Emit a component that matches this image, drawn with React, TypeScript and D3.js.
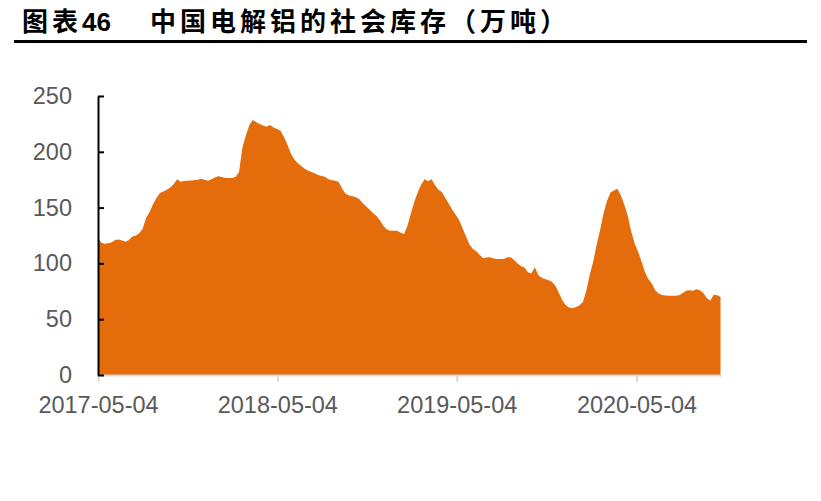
import React, { useRef, useEffect } from "react";
import * as d3 from "d3";

// weekly readings (Thursdays) starting 2017-05-04, unit: 万吨
const startDate = "2017-05-04";
const stock = [
  123, 118.5, 117.5, 118, 119, 121, 121.5, 120.5, 119.5, 121,
  124, 125, 127, 131, 141, 146, 153, 158.5, 163, 164.5,
  166, 168, 171, 175.5, 173.2, 173.8, 174, 174.2, 174.5, 175,
  175.9, 175, 174, 175.5, 177, 178, 177.5, 176.5, 176.5, 176.5,
  177.5, 182, 204, 214.5, 224, 228.5, 226.5, 225, 223.5, 222.5,
  224, 222, 220.5, 219, 213.6, 207, 199, 193.5, 190, 187.5,
  185, 183.2, 181.8, 180.8, 179.2, 178.3, 177.7, 175.5, 174.5, 174,
  173, 167, 162.5, 160.8, 160.2, 159.3, 157.5, 154, 151, 148,
  145, 142.5, 138.5, 133.5, 130.3, 129.3, 129.3, 129.3, 127.5, 126.3,
  134, 145, 155.5, 164, 171, 175.4, 173.5, 175.4, 170, 166,
  164, 158.5, 153.5, 148, 143.5, 139, 131.5, 124, 117, 113,
  110.8, 107.5, 104.6, 105.3, 105.5, 104.5, 104, 104, 104, 105.5,
  105.5, 103, 100, 97.5, 96.3, 92, 91, 96.5, 89.5, 87.2,
  86, 84.8, 83.5, 80, 73.5, 67, 62.5, 60.5, 59.8, 61,
  62.5, 65.5, 76, 90, 102, 117, 130, 145, 156, 163.5,
  165.3, 167, 161, 153, 143, 129, 118, 110.7, 102, 92.5,
  86, 82, 76, 73, 71.7, 71.3, 71, 71, 71, 71.5,
  73.5, 75.5, 76, 75.5, 76.8, 76, 73.5, 69, 66.5, 72,
  71.5, 70,
];
const xTickLabels = ["2017-05-04", "2018-05-04", "2019-05-04", "2020-05-04"];
const yTicks = [0, 50, 100, 150, 200, 250];

const figureLabel = "图表";
const figureNumber = "46";
const chartTitle = "中国电解铝的社会库存（万吨）";

const App: React.FC = () => {
  const svgRef = useRef<SVGSVGElement | null>(null);
  const width = 821;
  const height = 501;
  const plot = { left: 98, top: 96, bottom: 375 };

  useEffect(() => {
    const svg = d3.select(svgRef.current);
    svg.selectAll("*").remove();

    const parse = d3.timeParse("%Y-%m-%d");
    const start = parse(startDate)!;
    const data = stock.map((v, i) => ({ date: d3.timeDay.offset(start, i * 7), value: v }));
    const tickDates = xTickLabels.map((s) => parse(s)!);

    const x = d3
      .scaleTime()
      .domain([tickDates[0], tickDates[tickDates.length - 1]])
      .range([plot.left, 636.5]);
    const y = d3.scaleLinear().domain([0, 250]).range([plot.bottom, plot.top]);

    // title
    svg
      .append("text")
      .attr("x", 22)
      .attr("y", 31)
      .attr("font-family", "'Noto Sans CJK SC', sans-serif")
      .attr("font-weight", 700)
      .attr("font-size", 26)
      .attr("letter-spacing", 4)
      .attr("fill", "#000")
      .text(figureLabel);
    svg
      .append("text")
      .attr("x", 82)
      .attr("y", 31)
      .attr("font-family", "'Liberation Sans', Arial, sans-serif")
      .attr("font-weight", 700)
      .attr("font-size", 26)
      .attr("fill", "#000")
      .text(figureNumber);
    svg
      .append("text")
      .attr("x", 150)
      .attr("y", 31)
      .attr("font-family", "'Noto Sans CJK SC', sans-serif")
      .attr("font-weight", 700)
      .attr("font-size", 26)
      .attr("letter-spacing", 4)
      .attr("fill", "#000")
      .text(chartTitle);
    svg
      .append("line")
      .attr("x1", 14)
      .attr("x2", 807)
      .attr("y1", 41.5)
      .attr("y2", 41.5)
      .attr("stroke", "#000")
      .attr("stroke-width", 3);

    // area
    const area = d3
      .area<{ date: Date; value: number }>()
      .x((d) => x(d.date))
      .y0(y(0))
      .y1((d) => y(d.value))
      .curve(d3.curveLinear);

    svg.append("path").datum(data).attr("d", area).attr("fill", "#E46C0A");

    // x axis
    const xAxis = svg.append("g").attr("transform", `translate(0,${plot.bottom + 0.5})`);
    xAxis
      .call(
        d3
          .axisBottom(x)
          .tickValues(tickDates)
          .tickSize(6)
          .tickFormat((d) => d3.timeFormat("%Y-%m-%d")(d as Date))
      )
      .call((g) => g.select(".domain").attr("stroke", "#d9d9d9").attr("stroke-width", 2)
        .attr("d", `M${plot.left},0H${x(data[data.length - 1].date) + 1}`))
      .call((g) => g.selectAll(".tick line").attr("stroke", "#d9d9d9").attr("stroke-width", 2))
      .call((g) =>
        g
          .selectAll(".tick text")
          .attr("y", 30)
          .attr("dy", "0.32em")
          .attr("fill", "#595959")
          .attr("font-size", 23.5)
          .attr("font-family", "'Liberation Sans', Arial, sans-serif")
      );

    // y axis
    const yAxis = svg.append("g").attr("transform", `translate(${plot.left},0)`);
    yAxis
      .call(d3.axisRight(y).tickValues(yTicks).tickSize(6).tickSizeOuter(0).tickFormat((d) => String(d)))
      .call((g) => g.select(".domain").attr("stroke", "#000").attr("stroke-width", 2))
      .call((g) => g.selectAll(".tick line").attr("stroke", "#000").attr("stroke-width", 2))
      .call((g) =>
        g
          .selectAll(".tick text")
          .attr("x", -26)
          .attr("text-anchor", "end")
          .attr("fill", "#595959")
          .attr("font-size", 23.5)
          .attr("font-family", "'Liberation Sans', Arial, sans-serif")
      );
  }, []);

  return (
    <svg
      ref={svgRef}
      width={width}
      height={height}
      style={{ position: "absolute", left: 0, top: 0, background: "#fff" }}
    />
  );
};

export default App;
